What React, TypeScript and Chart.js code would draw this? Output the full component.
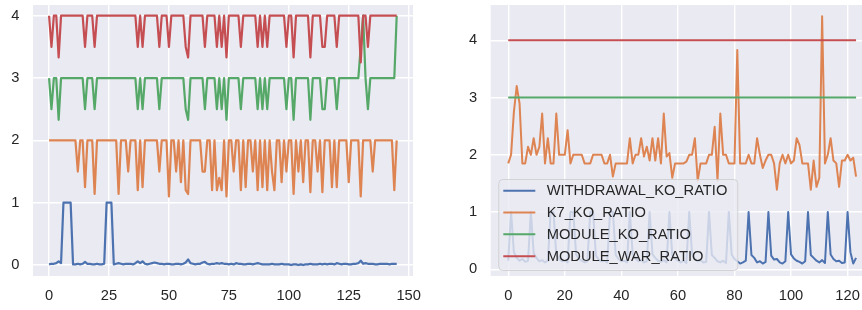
import React, { useEffect, useRef } from "react";
import { Chart, registerables } from "chart.js";

Chart.register(...registerables);

const FONT = '"Liberation Sans", Arial, sans-serif';
const TEXT = "#262626";

const seriesNames = ["WITHDRAWAL_KO_RATIO", "K7_KO_RATIO", "MODULE_KO_RATIO", "MODULE_WAR_RATIO"];
const seriesColors = ["#4c72b0", "#dd8452", "#55a868", "#c44e52"];

const leftXTicks = [0, 25, 50, 75, 100, 125, 150];
const leftYTicks = [0, 1, 2, 3, 4];
const rightXTicks = [0, 20, 40, 60, 80, 100, 120];
const rightYTicks = [0, 1, 2, 3, 4];

// ---- left panel (146 samples) ----
const leftWithdrawal = [
  0.01, 0.02, 0.02, 0.03, 0.06, 0.03, 1, 1, 1, 1,
  0.01, 0.01, 0.02, 0.01, 0.02, 0.05, 0.02, 0.02, 0.01, 0.01,
  0.02, 0.01, 0.01, 0.02, 1, 1, 1, 0.01, 0.02, 0.03,
  0.02, 0.01, 0.02, 0.02, 0.02, 0.01, 0.03, 0.06, 0.03, 0.06,
  0.02, 0.01, 0.02, 0.03, 0.04, 0.03, 0.02, 0.02, 0.01, 0.02,
  0.02, 0.01, 0.01, 0.02, 0.02, 0.01, 0.02, 0.04, 0.09, 0.03,
  0.02, 0.01, 0.02, 0.02, 0.04, 0.05, 0.02, 0.01, 0.02, 0.02,
  0.03, 0.02, 0.03, 0.02, 0.02, 0.01, 0.02, 0.01, 0.03, 0.02,
  0.02, 0.01, 0.01, 0.02, 0.02, 0.01, 0.02, 0.03, 0.02, 0.01,
  0.01, 0.01, 0.01, 0.02, 0.01, 0.01, 0.01, 0.02, 0.01, 0.01,
  0.01, 0.0, 0.01, 0.01, 0.0, 0.01, 0.0, 0.01, 0.01, 0.02,
  0.01, 0.01, 0.01, 0.02, 0.01, 0.02, 0.01, 0.02, 0.02, 0.01,
  0.03, 0.02, 0.01, 0.02, 0.02, 0.01, 0.01, 0.02, 0.02, 0.03,
  0.07, 0.02, 0.03, 0.02, 0.02, 0.02, 0.01, 0.01, 0.02, 0.02,
  0.02, 0.02, 0.01, 0.02, 0.02, 0.02,
];
const leftK7 = [
  2, 2, 2, 2, 2, 2, 2, 2, 2, 2,
  2, 2, 1.5, 2, 2, 1.25, 2, 2, 2, 1.14,
  2, 2, 2, 2, 2, 2, 2, 2, 2, 1.14,
  2, 2, 2, 1.5, 2, 2, 2, 1.2, 2, 1.25,
  2, 2, 2, 2, 2, 2, 1.5, 2, 2, 2,
  1.1, 2, 2, 1.5, 2, 1.33, 2, 1.2, 1.14, 2,
  2, 2, 2, 2, 1.5, 1.5, 2, 2, 1.2, 2,
  1.2, 1.4, 1.2, 2, 1.1, 2, 2, 1.5, 2, 2,
  1.2, 2, 1.25, 2, 2, 1.5, 2, 1.2, 2, 1.25,
  2, 1.2, 2, 1.5, 1.2, 2, 2, 1.33, 2, 1.5,
  2, 2, 1.14, 2, 1.5, 2, 1.33, 2, 2, 1.17,
  2, 2, 1.5, 2, 1.17, 2, 2, 2, 1.25, 2,
  1.25, 2, 2, 2, 2, 1.33, 2, 2, 2, 2,
  1.1, 2, 2, 2, 2, 1.5, 2, 2, 2, 2,
  2, 2, 2, 2, 1.2, 2,
];
const leftModuleKo = [
  3, 2.5, 3, 3, 2.33, 3, 3, 3, 3, 3,
  3, 3, 3, 3, 3, 2.5, 3, 3, 3, 2.5,
  3, 3, 3, 3, 3, 3, 3, 3, 3, 3,
  3, 3, 3, 3, 3, 3, 3, 2.5, 3, 2.5,
  3, 3, 3, 3, 3, 3, 2.5, 3, 3, 3,
  3, 3, 3, 3, 3, 3, 3, 2.5, 2.33, 3,
  3, 3, 3, 3, 3, 2.5, 3, 3, 3, 3,
  2.5, 3, 2.5, 3, 2.33, 3, 3, 3, 3, 3,
  2.5, 3, 3, 3, 3, 3, 3, 2.5, 3, 2.5,
  3, 2.5, 3, 3, 3, 3, 3, 3, 3, 2.5,
  3, 3, 2.33, 3, 3, 3, 3, 3, 3, 2.33,
  3, 3, 3, 3, 2.5, 2.5, 3, 3, 3, 3,
  2.5, 3, 3, 3, 3, 3, 3, 3, 3, 3,
  3.5, 4, 3, 2.5, 3, 3, 3, 3, 3, 3,
  3, 3, 3, 3, 3, 4,
];
const leftModuleWar = [
  4, 3.5, 4, 4, 3.33, 4, 4, 4, 4, 4,
  4, 4, 4, 4, 4, 3.5, 4, 4, 4, 3.5,
  4, 4, 4, 4, 4, 4, 4, 4, 4, 4,
  4, 4, 4, 4, 4, 4, 4, 3.5, 4, 3.5,
  4, 4, 4, 4, 4, 4, 3.5, 4, 4, 4,
  3.5, 4, 4, 4, 4, 4, 4, 3.5, 3.33, 4,
  4, 4, 4, 4, 4, 3.5, 4, 4, 4, 4,
  3.5, 4, 3.5, 4, 3.33, 4, 4, 4, 4, 4,
  3.5, 4, 4, 4, 4, 4, 4, 3.5, 4, 3.5,
  4, 3.5, 4, 4, 4, 4, 4, 4, 4, 3.5,
  4, 4, 3.33, 4, 4, 4, 4, 4, 4, 3.33,
  4, 4, 4, 4, 3.5, 3.5, 4, 4, 4, 4,
  3.5, 4, 4, 4, 4, 4, 4, 4, 4, 4,
  3.25, 4, 4, 3.5, 4, 4, 4, 4, 4, 4,
  4, 4, 4, 4, 4, 4,
];

// ---- right panel (124 samples) ----
const rightWithdrawal = [
  0.15, 1.0, 0.3, 0.2, 0.15, 0.18, 0.13, 0.15, 1.0, 0.28,
  0.2, 0.14, 0.16, 0.12, 0.15, 1.0, 1.0, 0.25, 0.18, 0.14,
  0.15, 0.12, 1.0, 1.0, 0.26, 0.18, 0.15, 0.12, 0.14, 1.0,
  1.0, 0.24, 0.17, 0.14, 0.15, 0.12, 1.0, 1.0, 0.25, 0.18,
  0.14, 0.15, 0.12, 1.0, 0.27, 0.19, 0.14, 0.16, 0.12, 0.14,
  1.0, 0.26, 0.2, 0.15, 0.13, 0.16, 0.12, 1.0, 0.25, 0.19,
  0.15, 0.12, 0.15, 0.11, 1.0, 0.27, 0.18, 0.14, 0.16, 0.12,
  0.13, 1.0, 0.25, 0.2, 0.14, 0.12, 0.15, 0.11, 1.0, 0.26,
  0.18, 0.14, 0.1, 0.12, 0.15, 1.0, 0.25, 0.2, 0.12, 0.14,
  0.1, 0.13, 1.0, 0.24, 0.17, 0.18, 0.12, 0.1, 0.14, 1.0,
  0.26, 0.19, 0.15, 0.13, 0.1, 0.14, 1.0, 0.25, 0.2, 0.15,
  0.12, 0.16, 0.11, 1.0, 0.26, 0.18, 0.14, 0.15, 0.11, 0.12,
  1.0, 0.3, 0.1, 0.2,
];
const rightK7 = [
  1.85, 2.0, 2.75, 3.2, 2.9, 1.85, 1.85, 2.14, 2.0, 2.29,
  2.0, 2.14, 2.72, 1.85, 2.29, 1.85, 1.85, 2.72, 2.0, 2.0,
  2.0, 2.43, 1.85, 2.0, 2.0, 2.0, 2.0, 1.85, 1.85, 1.85,
  2.0, 2.0, 2.0, 2.0, 1.85, 1.85, 2.0, 1.62, 1.85, 1.85,
  1.85, 1.85, 1.85, 2.29, 1.85, 2.0, 2.0, 2.29, 1.97, 2.14,
  1.9, 2.29, 1.9, 2.29, 1.85, 2.72, 1.97, 2.03, 1.6, 1.85,
  1.85, 1.85, 1.85, 1.88, 2.0, 2.0, 2.29, 1.55, 1.85, 1.85,
  1.85, 2.0, 2.0, 2.49, 1.55, 2.72, 2.0, 2.0, 1.85, 1.85,
  1.85, 3.83, 1.85, 1.85, 1.85, 2.0, 1.85, 1.85, 2.29, 2.0,
  1.77, 1.9, 2.0, 2.0, 1.85, 1.39, 1.85, 2.0, 1.85, 2.0,
  1.85, 1.9, 2.29, 2.17, 1.85, 1.85, 1.85, 1.39, 1.9, 1.44,
  1.6, 4.42, 1.85, 2.0, 2.29, 1.9, 1.85, 1.44, 1.9, 1.9,
  2.0, 1.9, 1.95, 1.62,
];
const rightModuleKo = [
  3, 3, 3, 3, 3, 3, 3, 3, 3, 3,
  3, 3, 3, 3, 3, 3, 3, 3, 3, 3,
  3, 3, 3, 3, 3, 3, 3, 3, 3, 3,
  3, 3, 3, 3, 3, 3, 3, 3, 3, 3,
  3, 3, 3, 3, 3, 3, 3, 3, 3, 3,
  3, 3, 3, 3, 3, 3, 3, 3, 3, 3,
  3, 3, 3, 3, 3, 3, 3, 3, 3, 3,
  3, 3, 3, 3, 3, 3, 3, 3, 3, 3,
  3, 3, 3, 3, 3, 3, 3, 3, 3, 3,
  3, 3, 3, 3, 3, 3, 3, 3, 3, 3,
  3, 3, 3, 3, 3, 3, 3, 3, 3, 3,
  3, 3, 3, 3, 3, 3, 3, 3, 3, 3,
  3, 3, 3, 3,
];
const rightModuleWar = [
  4, 4, 4, 4, 4, 4, 4, 4, 4, 4,
  4, 4, 4, 4, 4, 4, 4, 4, 4, 4,
  4, 4, 4, 4, 4, 4, 4, 4, 4, 4,
  4, 4, 4, 4, 4, 4, 4, 4, 4, 4,
  4, 4, 4, 4, 4, 4, 4, 4, 4, 4,
  4, 4, 4, 4, 4, 4, 4, 4, 4, 4,
  4, 4, 4, 4, 4, 4, 4, 4, 4, 4,
  4, 4, 4, 4, 4, 4, 4, 4, 4, 4,
  4, 4, 4, 4, 4, 4, 4, 4, 4, 4,
  4, 4, 4, 4, 4, 4, 4, 4, 4, 4,
  4, 4, 4, 4, 4, 4, 4, 4, 4, 4,
  4, 4, 4, 4, 4, 4, 4, 4, 4, 4,
  4, 4, 4, 4,
];

const toPoints = (arr: number[]) => arr.map((v, i) => ({ x: i, y: v }));

const panelBg = {
  id: "panelBg",
  beforeDraw(chart: any) {
    const { ctx, chartArea } = chart;
    ctx.save();
    ctx.fillStyle = "#eaeaf2";
    ctx.fillRect(chartArea.left, chartArea.top, chartArea.right - chartArea.left, chartArea.bottom - chartArea.top);
    ctx.restore();
  },
};

const innerLegend = {
  id: "innerLegend",
  afterDatasetsDraw(chart: any) {
    const { ctx, chartArea } = chart;
    const x0 = chartArea.left + 7.6;
    const y0 = chartArea.top + 174;
    const w = 239;
    const h = 91;
    ctx.save();
    ctx.beginPath();
    if ((ctx as any).roundRect) (ctx as any).roundRect(x0 + 0.5, y0 + 0.5, w, h, 4);
    else ctx.rect(x0 + 0.5, y0 + 0.5, w, h);
    ctx.fillStyle = "rgba(234,234,242,0.8)";
    ctx.fill();
    ctx.strokeStyle = "rgba(204,204,204,0.8)";
    ctx.lineWidth = 1;
    ctx.stroke();
    const rows = [11.8, 33.5, 55.2, 77.2];
    ctx.font = `14.7px ${FONT}`;
    ctx.textBaseline = "middle";
    ctx.textAlign = "left";
    seriesNames.forEach((name, k) => {
      const y = y0 + rows[k];
      ctx.strokeStyle = seriesColors[k];
      ctx.lineWidth = 2;
      ctx.beginPath();
      ctx.moveTo(x0 + 5, y);
      ctx.lineTo(x0 + 37, y);
      ctx.stroke();
      ctx.fillStyle = TEXT;
      ctx.fillText(name, x0 + 48.4, y + 0.5);
    });
    ctx.restore();
  },
};

function makeConfig(opts: {
  series: number[][];
  xMin: number;
  xMax: number;
  yMin: number;
  yMax: number;
  xTicks: number[];
  yTicks: number[];
  yWidth: number;
  padRight: number;
  lineWidth: number;
  legend: boolean;
}) {
  const datasets = opts.series.map((arr, k) => ({
    label: seriesNames[k],
    data: toPoints(arr),
    borderColor: seriesColors[k],
    backgroundColor: seriesColors[k],
    borderWidth: opts.lineWidth,
    pointRadius: 0,
    pointHoverRadius: 0,
    tension: 0,
    fill: false,
    borderJoinStyle: "round",
    order: 4 - k,
  }));
  const tickFont = { family: FONT, size: 14.7 };
  return {
    type: "line",
    data: { datasets },
    plugins: opts.legend ? [panelBg, innerLegend] : [panelBg],
    options: {
      responsive: false,
      animation: false,
      devicePixelRatio: 1,
      layout: { padding: { left: 0, top: 5, right: opts.padRight, bottom: 0 } },
      plugins: { legend: { display: false }, tooltip: { enabled: false } },
      events: [],
      scales: {
        x: {
          type: "linear",
          min: opts.xMin,
          max: opts.xMax,
          afterBuildTicks: (s: any) => {
            s.ticks = opts.xTicks.map((v) => ({ value: v }));
          },
          afterFit: (s: any) => {
            s.height = 34;
            s.paddingLeft = 0;
            s.paddingRight = 0;
          },
          grid: { color: "#ffffff", lineWidth: 1.4, drawTicks: false },
          border: { display: false },
          ticks: {
            color: TEXT,
            font: tickFont,
            padding: 11,
            maxRotation: 0,
            autoSkip: false,
            callback: (v: any) => String(v),
          },
        },
        y: {
          type: "linear",
          min: opts.yMin,
          max: opts.yMax,
          afterBuildTicks: (s: any) => {
            s.ticks = opts.yTicks.map((v) => ({ value: v }));
          },
          afterFit: (s: any) => {
            s.width = opts.yWidth;
            s.paddingTop = 0;
            s.paddingBottom = 0;
          },
          grid: { color: "#ffffff", lineWidth: 1.4, drawTicks: false },
          border: { display: false },
          ticks: {
            color: TEXT,
            font: tickFont,
            padding: 13.5,
            autoSkip: false,
            callback: (v: any) => String(v),
          },
        },
      },
    },
  } as any;
}

function ChartCanvas({ config, left, width }: { config: any; left: number; width: number }) {
  const ref = useRef<HTMLCanvasElement>(null);
  useEffect(() => {
    const chart = new Chart(ref.current as HTMLCanvasElement, config);
    return () => chart.destroy();
  }, []);
  return (
    <canvas
      ref={ref}
      width={width}
      height={310}
      style={{ position: "absolute", left, top: 0, width, height: 310, display: "block" }}
    />
  );
}

export default function App() {
  const leftConfig = makeConfig({
    series: [leftWithdrawal, leftK7, leftModuleKo, leftModuleWar],
    xMin: -6.7,
    xMax: 151.8,
    yMin: -0.176,
    yMax: 4.172,
    xTicks: leftXTicks,
    yTicks: leftYTicks,
    yWidth: 33,
    padRight: 17,
    lineWidth: 2.2,
    legend: false,
  });
  const rightConfig = makeConfig({
    series: [rightWithdrawal, rightK7, rightModuleKo, rightModuleWar],
    xMin: -6.2,
    xMax: 129.2,
    yMin: -0.117,
    yMax: 4.617,
    xTicks: rightXTicks,
    yTicks: rightYTicks,
    yWidth: 50.7,
    padRight: 6.4,
    lineWidth: 2,
    legend: true,
  });
  return (
    <div
      style={{
        position: "fixed",
        left: 0,
        top: 0,
        width: 862,
        height: 310,
        overflow: "hidden",
        background: "#ffffff",
      }}
    >
      <ChartCanvas config={leftConfig} left={0} width={430} />
      <ChartCanvas config={rightConfig} left={440} width={440} />
    </div>
  );
}
